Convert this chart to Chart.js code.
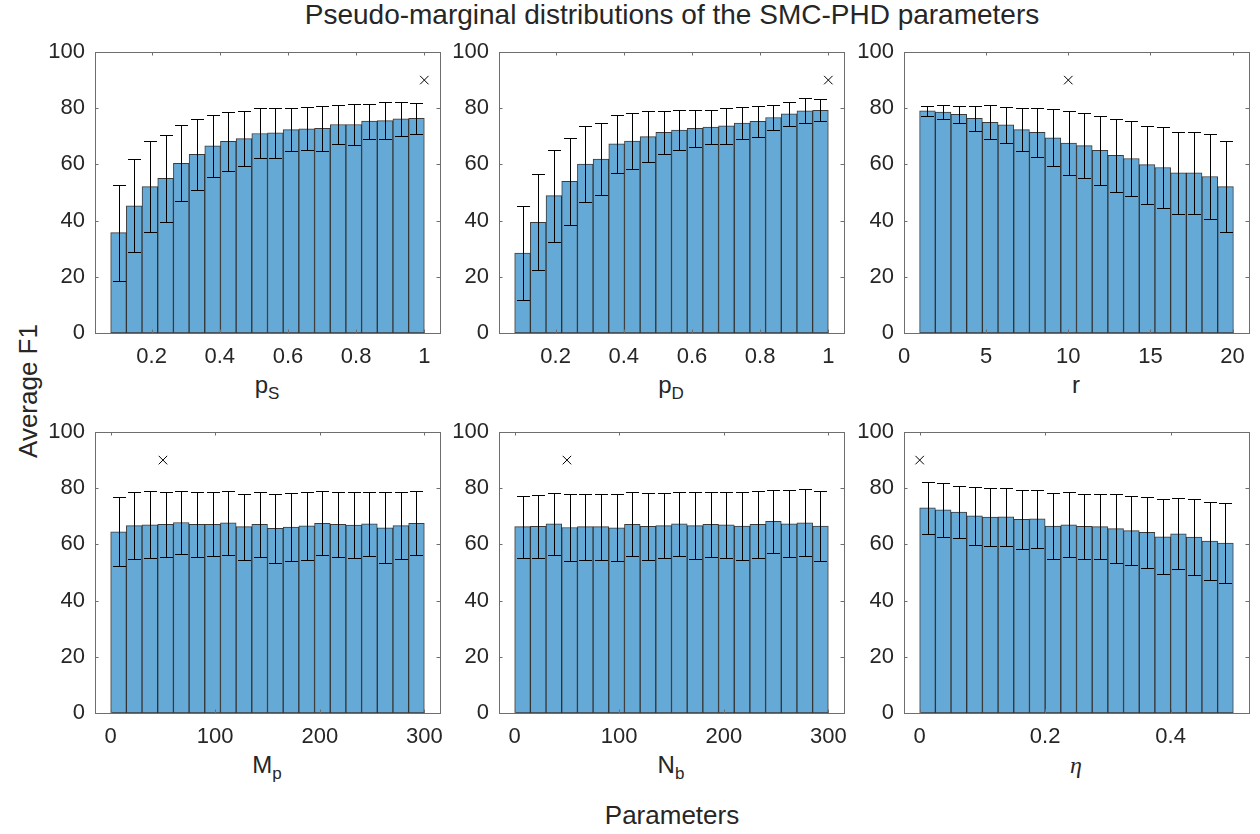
<!DOCTYPE html>
<html>
<head>
<meta charset="utf-8">
<script src="https://cdn.jsdelivr.net/npm/chart.js@4.4.1/dist/chart.umd.min.js"></script>
<style>
  html, body { margin: 0; padding: 0; background: #fff; }
  #fig { position: relative; width: 1260px; height: 834px; overflow: hidden;
         font-family: "Liberation Sans", Arial, sans-serif; color: #262626; }
  #fig canvas { position: absolute; }
  .lbl { position: absolute; white-space: nowrap; transform: translateX(-50%); line-height: 1; }
  .lbl sub { font-size: 17px; vertical-align: -6px; line-height: 0; }
  .eta { font-family: "Liberation Serif", serif; font-style: italic; }
</style>
</head>
<body>
<div id="fig">
  <div class="lbl" style="font-size:28px;left:672px;top:1px">Pseudo-marginal distributions of the SMC-PHD parameters</div>
  <div class="lbl" style="font-size:26px;left:28px;top:378px;transform:translate(-50%,0) rotate(-90deg)">Average F1</div>
  <div class="lbl" style="font-size:26px;left:672px;top:802px">Parameters</div>

  <div class="lbl" style="font-size:24px;left:267px;top:373px">p<sub>S</sub></div>
  <div class="lbl" style="font-size:24px;left:671px;top:373px">p<sub>D</sub></div>
  <div class="lbl" style="font-size:24px;left:1076px;top:373px">r</div>
  <div class="lbl" style="font-size:24px;left:267px;top:753px">M<sub>p</sub></div>
  <div class="lbl" style="font-size:24px;left:671px;top:753px">N<sub>b</sub></div>
  <div class="lbl eta" style="font-size:24px;left:1076px;top:753px">η</div>
</div>
<script>
// bin centres of the histograms
const pBins = [0.103, 0.149, 0.195, 0.241, 0.287, 0.333, 0.379, 0.425, 0.471, 0.517,
               0.563, 0.609, 0.655, 0.701, 0.747, 0.793, 0.839, 0.885, 0.931, 0.977];
const rBins = [1.4275, 2.3825, 3.3375, 4.2925, 5.2475, 6.2025, 7.1575, 8.1125, 9.0675, 10.0225,
               10.9775, 11.9325, 12.8875, 13.8425, 14.7975, 15.7525, 16.7075, 17.6625, 18.6175, 19.5725];
const countBins = [7.5, 22.5, 37.5, 52.5, 67.5, 82.5, 97.5, 112.5, 127.5, 142.5,
                   157.5, 172.5, 187.5, 202.5, 217.5, 232.5, 247.5, 262.5, 277.5, 292.5];
const etaBins = [0.0125, 0.0375, 0.0625, 0.0875, 0.1125, 0.1375, 0.1625, 0.1875, 0.2125, 0.2375,
                 0.2625, 0.2875, 0.3125, 0.3375, 0.3625, 0.3875, 0.4125, 0.4375, 0.4625, 0.4875];

// mean F1 and its spread per bin
const psMean = [35.7, 45.3, 52.1, 55.0, 60.4, 63.6, 66.6, 68.2, 69.2, 71.0, 71.2, 72.4, 72.7, 72.8, 74.2, 74.2, 75.4, 75.6, 76.2, 76.4];
const psStd  = [17.1, 16.6, 16.1, 15.4, 13.6, 12.6, 11.1, 10.6, 9.8, 8.9, 8.8, 7.7, 7.6, 7.9, 6.8, 7.3, 6.2, 6.7, 6.0, 5.5];
const pdMean = [28.4, 39.4, 48.9, 54.0, 60.1, 61.9, 67.3, 68.3, 69.9, 71.4, 72.2, 72.8, 73.3, 73.7, 74.7, 75.3, 76.7, 78.0, 79.1, 79.2];
const pdStd  = [16.8, 17.1, 16.4, 15.4, 13.5, 12.9, 10.3, 10.0, 9.0, 7.7, 7.0, 6.5, 6.0, 6.3, 5.7, 5.6, 4.3, 4.2, 4.5, 3.9];
const rMean  = [79.1, 78.6, 77.8, 76.4, 75.0, 74.1, 72.4, 71.4, 69.5, 67.6, 66.7, 65.0, 63.2, 62.1, 59.9, 58.9, 57.0, 57.0, 55.7, 52.1];
const rStd   = [1.7, 2.6, 3.0, 4.4, 6.1, 6.4, 7.8, 8.7, 10.1, 11.3, 11.5, 12.2, 13.1, 13.4, 13.9, 14.3, 14.7, 14.7, 15.1, 16.2];
const mpMean = [64.5, 66.7, 67.0, 67.1, 67.8, 67.1, 67.1, 67.7, 66.3, 67.1, 65.7, 66.2, 66.6, 67.5, 67.1, 66.9, 67.3, 65.9, 66.7, 67.5];
const mpStd  = [12.3, 11.9, 11.9, 11.6, 11.2, 11.6, 11.4, 11.4, 11.7, 11.6, 12.3, 12.0, 12.0, 11.4, 11.6, 11.7, 11.4, 12.6, 11.9, 11.4];
const nbMean = [66.3, 66.4, 67.3, 66.0, 66.3, 66.3, 65.9, 67.1, 66.4, 66.7, 67.3, 66.7, 67.1, 67.0, 66.5, 67.1, 68.2, 67.3, 67.7, 66.5];
const nbStd  = [11.0, 11.3, 11.1, 11.9, 11.7, 11.7, 11.9, 11.4, 11.9, 11.6, 11.4, 11.9, 11.6, 11.7, 12.0, 11.8, 11.3, 11.9, 11.9, 12.5];
const etaMean = [73.0, 72.3, 71.5, 70.2, 69.7, 69.8, 68.9, 69.1, 66.5, 67.0, 66.4, 66.3, 65.6, 64.9, 64.3, 62.7, 63.8, 62.6, 61.2, 60.5];
const etaStd  = [9.2, 9.5, 9.4, 10.3, 10.2, 10.2, 10.6, 10.3, 11.7, 11.5, 11.7, 11.6, 12.2, 12.3, 12.7, 13.3, 12.6, 13.5, 13.8, 14.2];

// chosen parameter values (x markers)
const bestX = [1, 1, 10, 50, 50, 0];
const bestY = [90, 90, 90, 90, 90, 90];

const FONT = '"Liberation Sans", Arial, sans-serif';
const TXT = '#262626';

// error bars drawn from the dataset's own values through the scales
const errorBars = {
  id: 'errorBars',
  afterDatasetsDraw(chart) {
    const { ctx, scales: { x, y } } = chart;
    const ds = chart.data.datasets[0];
    ctx.save();
    ctx.strokeStyle = '#000';
    ctx.lineWidth = 1;
    ctx.beginPath();
    ds.data.forEach((p, i) => {
      const e = ds.errors[i];
      const cx = Math.round(x.getPixelForValue(p.x)) + 0.5;
      const t = Math.round(y.getPixelForValue(p.y + e)) + 0.5;
      const b = Math.round(y.getPixelForValue(p.y - e)) + 0.5;
      ctx.moveTo(cx, t); ctx.lineTo(cx, b);
      ctx.moveTo(cx - 6.5, t); ctx.lineTo(cx + 6.5, t);
      ctx.moveTo(cx - 6.5, b); ctx.lineTo(cx + 6.5, b);
    });
    ctx.stroke();
    ctx.restore();
  }
};

// matlab style box with inward ticks
const axesBox = {
  id: 'axesBox',
  afterDraw(chart) {
    const { ctx, chartArea: a, scales: { x, y } } = chart;
    ctx.save();
    ctx.strokeStyle = '#6e6e6e';
    ctx.lineWidth = 1;
    ctx.beginPath();
    x.ticks.forEach(t => {
      const px = Math.round(x.getPixelForValue(t.value)) + 0.5;
      ctx.moveTo(px, a.bottom); ctx.lineTo(px, a.bottom - 3.5);
      ctx.moveTo(px, a.top); ctx.lineTo(px, a.top + 3.5);
    });
    y.ticks.forEach(t => {
      const py = Math.round(y.getPixelForValue(t.value)) + 0.5;
      ctx.moveTo(a.left, py); ctx.lineTo(a.left + 3.5, py);
      ctx.moveTo(a.right, py); ctx.lineTo(a.right - 3.5, py);
    });
    ctx.stroke();
    ctx.strokeRect(a.left + 0.5, a.top + 0.5, a.width, a.height);
    ctx.restore();
  }
};

function panel(left, top, bins, mean, std, best, xMin, xMax, step) {
  const cv = document.createElement('canvas');
  cv.width = 417; cv.height = 333;
  cv.style.left = (left - 60) + 'px';
  cv.style.top = (top - 12) + 'px';
  document.getElementById('fig').appendChild(cv);
  const tickFont = { family: FONT, size: 22 };
  return new Chart(cv.getContext('2d'), {
    type: 'bar',
    data: {
      datasets: [{
        data: bins.map((b, i) => ({ x: b, y: mean[i] })),
        errors: std,
        backgroundColor: '#65a9d7',
        borderColor: 'rgba(25,25,25,0.85)',
        borderWidth: 1,
        borderSkipped: false,
        barPercentage: 1,
        categoryPercentage: 1
      }, {
        type: 'scatter',
        data: [best],
        pointStyle: 'crossRot',
        pointRadius: 6,
        borderColor: '#000',
        borderWidth: 1,
        backgroundColor: 'rgba(0,0,0,0)'
      }]
    },
    options: {
      responsive: false,
      animation: false,
      devicePixelRatio: 1,
      events: [],
      layout: { autoPadding: false, padding: { top: 12, right: 12, left: 0, bottom: 0 } },
      plugins: { legend: { display: false }, tooltip: { enabled: false } },
      scales: {
        x: {
          type: 'linear', min: xMin, max: xMax, offset: false,
          grid: { display: false }, border: { display: false },
          ticks: {
            stepSize: step, includeBounds: false, autoSkip: false, maxRotation: 0,
            padding: 3, color: TXT, font: tickFont,
            callback: v => Math.round(v * 1000) / 1000
          },
          afterFit: s => { s.height = 40; s.paddingLeft = 0; s.paddingRight = 0; }
        },
        y: {
          min: 0, max: 100,
          grid: { display: false }, border: { display: false },
          ticks: { stepSize: 20, padding: 2, color: TXT, font: tickFont },
          afterFit: s => { s.width = 60; s.paddingTop = 0; s.paddingBottom = 0; }
        }
      }
    },
    plugins: [errorBars, axesBox]
  });
}

const cols = [95, 499, 904];
const rows = [52, 432];

panel(cols[0], rows[0], pBins, psMean, psStd, { x: bestX[0], y: bestY[0] }, 0.034, 1.046, 0.2);
panel(cols[1], rows[0], pBins, pdMean, pdStd, { x: bestX[1], y: bestY[1] }, 0.034, 1.046, 0.2);
panel(cols[2], rows[0], rBins, rMean, rStd, { x: bestX[2], y: bestY[2] }, 0, 21, 5);
panel(cols[0], rows[1], countBins, mpMean, mpStd, { x: bestX[3], y: bestY[3] }, -15, 315, 100);
panel(cols[1], rows[1], countBins, nbMean, nbStd, { x: bestX[4], y: bestY[4] }, -15, 315, 100);
panel(cols[2], rows[1], etaBins, etaMean, etaStd, { x: bestX[5], y: bestY[5] }, -0.025, 0.525, 0.2);
</script>
</body>
</html>
